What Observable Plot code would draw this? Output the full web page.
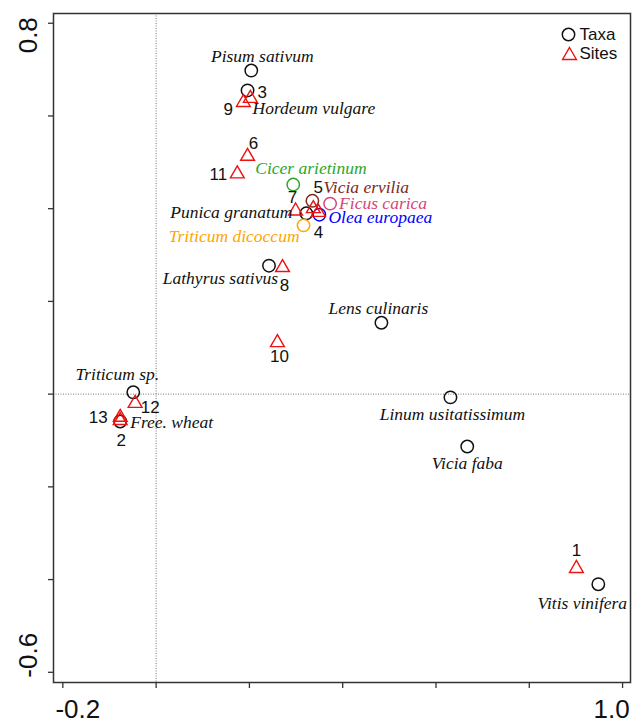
<!DOCTYPE html>
<html>
<head>
<meta charset="utf-8">
<script src="https://cdn.jsdelivr.net/npm/d3@7"></script>
<script src="https://cdn.jsdelivr.net/npm/@observablehq/plot@0.6"></script>
<style>
  html, body { margin: 0; padding: 0; background: #fff; }
  #chart svg { display: block; }
</style>
</head>
<body>
<div id="chart"></div>
<script>
// ---- Data ----
const taxa = ["Pisum sativum", "Hordeum vulgare", "Cicer arietinum", "Vicia ervilia",
  "Ficus carica", "Olea europaea", "Punica granatum", "Triticum dicoccum",
  "Lathyrus sativus", "Lens culinaris", "Triticum sp.", "Free. wheat",
  "Linum usitatissimum", "Vicia faba", "Vitis vinifera"];
const taxaX = [0.204, 0.196, 0.294, 0.335, 0.373, 0.350, 0.322, 0.316, 0.242, 0.483, -0.049, -0.077, 0.631, 0.667, 0.948];
const taxaY = [0.698, 0.655, 0.452, 0.417, 0.411, 0.387, 0.390, 0.364, 0.277, 0.154, 0.004, -0.059, -0.007, -0.113, -0.410];

const sites = ["1", "2", "3", "4", "5", "6", "7", "8", "9", "10", "11", "12", "13"];
const siteX = [0.901, -0.077, 0.202, 0.348, 0.337, 0.196, 0.299, 0.271, 0.187, 0.260, 0.174, -0.045, -0.077];
const siteY = [-0.376, -0.057, 0.638, 0.392, 0.400, 0.513, 0.395, 0.273, 0.629, 0.111, 0.475, -0.020, -0.050];

const xTicks = [-0.2, 0, 0.2, 0.4, 0.6, 0.8, 1.0];
const yTicks = [-0.6, -0.4, -0.2, 0, 0.2, 0.4, 0.6, 0.8];
const xTickLabels = ["-0.2", "1.0"];
const xTickLabelValues = [-0.2, 1.0];
const yTickLabels = ["-0.6", "0.8"];
const yTickLabelValues = [-0.6, 0.8];

const legendItems = ["Taxa", "Sites"];

// ---- Styles / layout (not data) ----
const taxaColors = {
  "Cicer arietinum": "#2ca62c",
  "Vicia ervilia": "#7a2a1e",
  "Ficus carica": "#d6457a",
  "Olea europaea": "#0000ff",
  "Triticum dicoccum": "#ffa500"
};
// [textAnchor, dx, dy]
const taxaLabelPlacement = {
  "Pisum sativum": ["middle", 11, -14],
  "Hordeum vulgare": ["start", 5, 18],
  "Cicer arietinum": ["start", -38, -16],
  "Vicia ervilia": ["start", 11, -13],
  "Ficus carica": ["start", 9, 0],
  "Olea europaea": ["start", 9, 3],
  "Punica granatum": ["end", -14, -1],
  "Triticum dicoccum": ["end", -4, 11],
  "Lathyrus sativus": ["end", 9, 13],
  "Lens culinaris": ["middle", -3, -14],
  "Triticum sp.": ["middle", -16, -18],
  "Free. wheat": ["start", 10, 1],
  "Linum usitatissimum": ["middle", 2, 17],
  "Vicia faba": ["middle", 0, 17],
  "Vitis vinifera": ["middle", -16, 19]
};
const siteLabelPlacement = {
  "1": [0, -18], "2": [1, 20], "3": [12, -6], "4": [0, 20], "5": [5, -21],
  "6": [6, -13], "7": [-3, -13], "8": [2, 18], "9": [-15, 7], "10": [2, 14],
  "11": [-19, 1], "12": [15, 4], "13": [-22, 0]
};

const taxaData = taxa.map((name, i) => ({name, x: taxaX[i], y: taxaY[i], color: taxaColors[name] || "#111"}));
const siteData = sites.map((name, i) => ({name, x: siteX[i], y: siteY[i]}));

const serif = "'Liberation Serif', 'Times New Roman', serif";
const sans = "'Liberation Sans', Arial, sans-serif";

const taxaLabelMarks = taxaData.map(d => {
  const [anchor, dx, dy] = taxaLabelPlacement[d.name];
  return Plot.text([d], {
    x: "x", y: "y", text: "name", textAnchor: anchor, dx, dy,
    fill: d.color, fontFamily: serif, fontStyle: "italic", fontSize: 17.5
  });
});
const siteLabelMarks = siteData.map(d => {
  const [dx, dy] = siteLabelPlacement[d.name];
  return Plot.text([d], {
    x: "x", y: "y", text: "name", dx, dy,
    fill: "#111", fontFamily: sans, fontSize: 17
  });
});

const xLabelOffsets = [15, -11];
const yLabelOffsets = [-17, 12];

const chart = Plot.plot({
  width: 640,
  height: 723,
  marginLeft: 53,
  marginRight: 10,
  marginTop: 13,
  marginBottom: 41,
  x: {domain: [-0.22, 1.017], axis: null},
  y: {domain: [-0.622, 0.821], axis: null},
  color: {type: "identity"},
  style: {background: "#fff"},
  marks: [
    Plot.ruleX([0], {stroke: "#555", strokeWidth: 0.8, strokeDasharray: "1,1.5"}),
    Plot.ruleY([0], {stroke: "#555", strokeWidth: 0.8, strokeDasharray: "1,1.5"}),
    Plot.frame({stroke: "#333", strokeWidth: 1.5}),
    Plot.axisX(xTicks, {anchor: "bottom", label: null, tickSize: 6, tickFormat: () => "", stroke: "#333", strokeWidth: 1.3}),
    Plot.axisY(yTicks, {anchor: "left", label: null, tickSize: 5, tickFormat: () => "", stroke: "#333", strokeWidth: 1.3}),
    ...xTickLabels.map((lab, i) => Plot.text([lab], {
      x: () => xTickLabelValues[i], frameAnchor: "bottom", text: d => d,
      lineAnchor: "middle", textAnchor: "middle",
      dy: 27, dx: xLabelOffsets[i], fontFamily: sans, fontSize: 26, fill: "#111"
    })),
    ...yTickLabels.map((lab, i) => Plot.text([lab], {
      y: () => yTickLabelValues[i], frameAnchor: "left", text: d => d, rotate: -90,
      lineAnchor: "middle", textAnchor: "middle",
      dx: -25, dy: yLabelOffsets[i], fontFamily: sans, fontSize: 26, fill: "#111"
    })),
    Plot.dot(taxaData, {x: "x", y: "y", r: 6.2, stroke: "color", strokeWidth: 1.5, fill: "none"}),
    Plot.dot(siteData, {x: "x", y: "y", symbol: "triangle2", r: 6.6, stroke: "#ee1111", strokeWidth: 1.4, fill: "none"}),
    ...taxaLabelMarks,
    ...siteLabelMarks,
    // legend
    Plot.dot([legendItems[0]], {frameAnchor: "top-right", dx: -62, dy: 21, r: 6.2, stroke: "#111", strokeWidth: 1.5, fill: "none"}),
    Plot.dot([legendItems[1]], {frameAnchor: "top-right", dx: -61, dy: 42, symbol: "triangle2", r: 6.6, stroke: "#ee1111", strokeWidth: 1.4, fill: "none"}),
    Plot.text([legendItems[0]], {frameAnchor: "top-right", text: d => d, textAnchor: "start", lineAnchor: "middle", dx: -51, dy: 21, fontFamily: sans, fontSize: 17, fill: "#111"}),
    Plot.text([legendItems[1]], {frameAnchor: "top-right", text: d => d, textAnchor: "start", lineAnchor: "middle", dx: -51, dy: 40, fontFamily: sans, fontSize: 17, fill: "#111"})
  ]
});
document.getElementById("chart").appendChild(chart);
</script>
</body>
</html>
